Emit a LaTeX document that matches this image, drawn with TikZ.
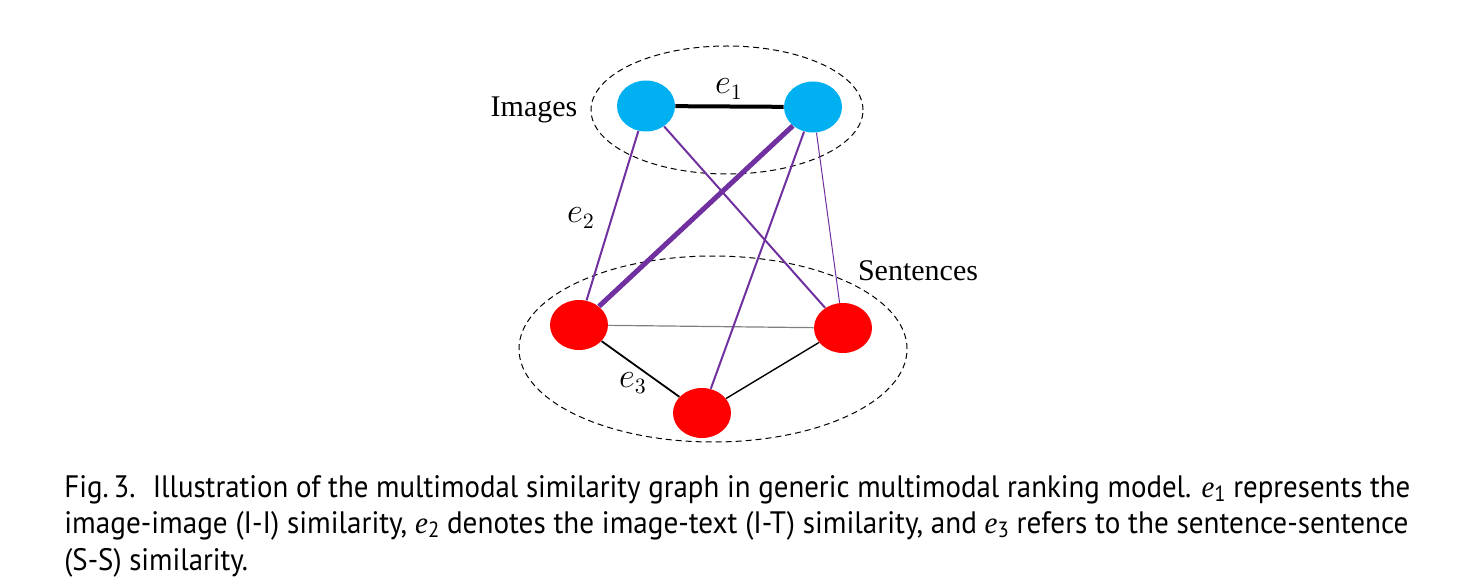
\documentclass[tikz,border=0pt]{standalone}
\usepackage{fontspec}
\usetikzlibrary{shapes.geometric}
\setmainfont{Liberation Serif}
\newfontfamily\capfont{PT Sans}
\newfontfamily\capserif{Liberation Serif}
\definecolor{imgblue}{HTML}{00B0F0}
\definecolor{sentred}{HTML}{FF0000}
\definecolor{linkpurple}{HTML}{7030A0}
\newcommand\cape[1]{{\capserif\itshape e}\raisebox{-0.3ex}{\fontsize{11}{12}\selectfont #1}}
\newcommand\capsize{\capfont\fontsize{15.5}{18}\selectfont}
\newcommand\caplineA{Fig.\,3.\hspace{0.6em}Illustration of the multimodal similarity graph in generic multimodal ranking model. \cape{1} represents the}
\newcommand\caplineB{image-image (I-I) similarity, \cape{2} denotes the image-text (I-T) similarity, and \cape{3} refers to the sentence-sentence}
\newcommand\caplineC{(S-S) similarity.}
\newsavebox\capboxA
\newsavebox\capboxB
\newlength\capwA
\newlength\capwB
\tikzset{
  imgnode/.style={ellipse, fill=imgblue, minimum width=29pt, minimum height=25.5pt, inner sep=0pt},
  sentnode/.style={ellipse, fill=sentred, minimum width=29pt, minimum height=25pt, inner sep=0pt},
  group/.style={draw, dash pattern=on 3pt off 2pt, line width=0.5pt},
  purplemid/.style={draw=linkpurple, line width=1pt},
  purplethick/.style={draw=linkpurple, line width=2.5pt},
  purplethin/.style={draw=linkpurple, line width=0.5pt},
  lbl/.style={font=\fontsize{15}{18}\selectfont},
  eqlbl/.style={font=\fontsize{16}{18}\selectfont},
  capline/.style={anchor=base west, inner sep=0pt, font=\capsize}
}
\begin{document}
\sbox\capboxA{\capsize\caplineA}%
\sbox\capboxB{\capsize\caplineB}%
\setlength\capwA{\wd\capboxA}%
\setlength\capwB{\wd\capboxB}%
\begin{tikzpicture}[x=0.5pt, y=-0.5pt]
\pgfmathsetmacro\capsA{673pt/\capwA}
\pgfmathsetmacro\capsB{672pt/\capwB}
\useasboundingbox (0,0) rectangle (1476,588);
% group ellipses
\node[group, ellipse, minimum width=136pt, minimum height=64pt] (gimg) at (727,110) {};
\node[group, ellipse, minimum width=194pt, minimum height=93pt] (gsent) at (713,349) {};
% nodes
\node[imgnode] (i1) at (646,106) {};
\node[imgnode] (i2) at (813,107) {};
\node[sentnode] (s1) at (579,325) {};
\node[sentnode] (s2) at (843,328) {};
\node[sentnode] (s3) at (702,413) {};
% image-image
\draw[line width=2pt] (i1) -- (i2);
% sentence-sentence
\draw[gray, line width=0.6pt] (s1) -- (s2);
\draw[line width=0.9pt] (s1) -- (s3);
\draw[line width=0.7pt] (s2) -- (s3);
% image-text
\draw[purplemid] (i1) -- (s1);
\draw[purplemid] (i1) -- (s2);
\draw[purplethick] (i2) -- (s1);
\draw[purplemid] (i2) -- (s3);
\draw[purplethin] (i2) -- (s2);
% labels
\node[lbl] (limg) at (534,110) {Images};
\node[lbl] (lsent) at (918,271) {Sentences};
\node[eqlbl] (le1) at (729,89) {$e_1$};
\node[eqlbl] (le2) at (581,218) {$e_2$};
\node[eqlbl] (le3) at (633,383) {$e_3$};
% caption
\node[capline] (c1) at (64,497) {\scalebox{\capsA}[1]{\caplineA}};
\node[capline] (c2) at (64,533) {\scalebox{\capsB}[1]{\caplineB}};
\node[capline] (c3) at (64,570) {\scalebox{\capsA}[1]{\caplineC}};
\end{tikzpicture}
\end{document}
